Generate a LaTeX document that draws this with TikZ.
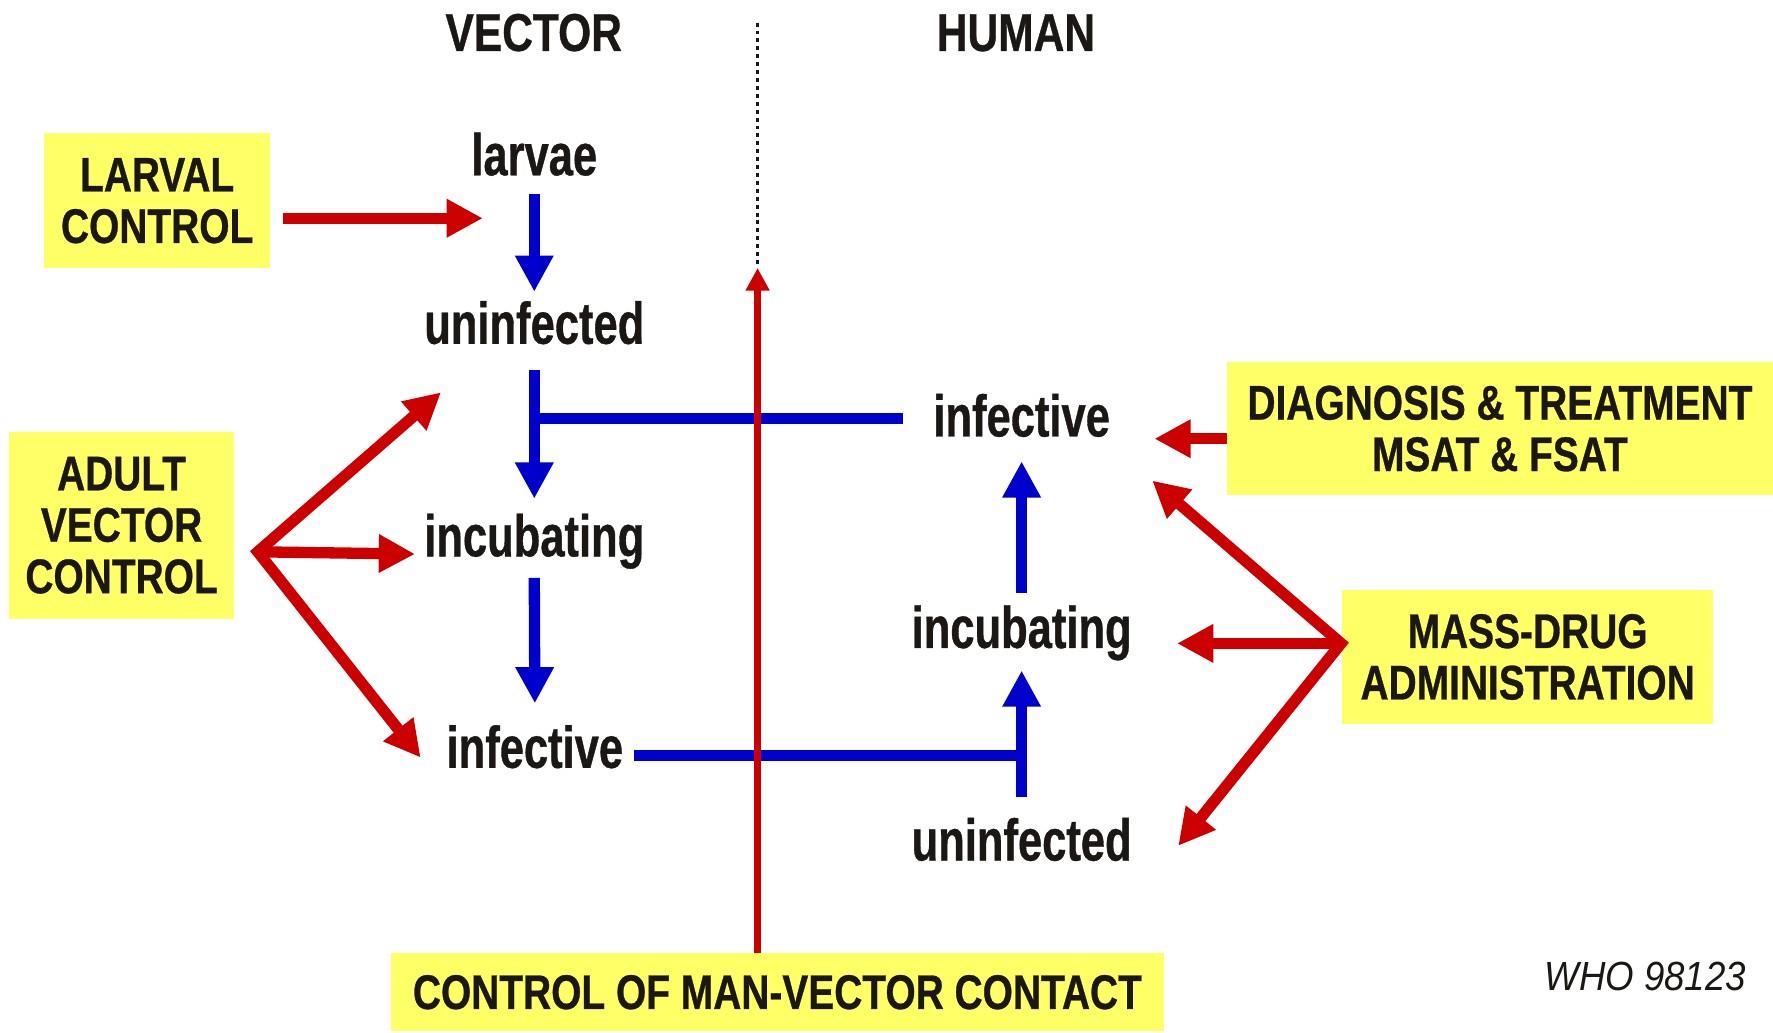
\documentclass[tikz,border=0pt]{standalone}
\usepackage{fontspec}
\usetikzlibrary{arrows.meta}
% condensed, heavy sans faces for the labels
\newfontfamily\lowfont{Liberation Sans}[FakeStretch=0.74,FakeBold=0.6]
\newfontfamily\capfont{Liberation Sans}[FakeStretch=0.80,FakeBold=0.6]
\newfontfamily\tagfont{Liberation Sans}[FakeStretch=0.90]
\definecolor{boxyellow}{RGB}{255,255,102}
\definecolor{ctlred}{RGB}{204,0,0}
\definecolor{flowblue}{RGB}{0,0,204}
\definecolor{ink}{RGB}{26,23,20}
\begin{document}
\begin{tikzpicture}[x=1pt,y=-1pt,
  stage/.style={anchor=base, inner sep=0pt, text=ink,
    font=\lowfont\bfseries\fontsize{52}{56}\selectfont},
  heading/.style={anchor=base, inner sep=0pt, text=ink,
    font=\capfont\bfseries\fontsize{47}{50}\selectfont},
  measure/.style={fill=boxyellow, inner sep=0pt, align=center, text=ink,
    font=\capfont\bfseries\fontsize{43}{45.5}\selectfont},
  flow/.style={draw=flowblue, line width=10pt},
  flowarrow/.style={flow, -{Triangle[length=32pt,width=32pt]}},
  ctl/.style={draw=ctlred, line width=10pt, line join=miter},
  ctlarrow/.style={ctl, -{Triangle[length=32pt,width=32pt]}},
  ctlboth/.style={ctl, {Triangle[length=32pt,width=32pt]}-{Triangle[length=32pt,width=32pt]}},
]
\fill[white] (0,0) rectangle (1568,913);
\useasboundingbox (0,0) rectangle (1568,913);

% column headings and the divider
\node[heading] (hvec) at (472,45) {VECTOR};
\node[heading] (hhum) at (898.5,45) {HUMAN};
\coordinate (dtop) at (670,20);
\coordinate (mvtip) at (670,237);

% vector stages
\node[stage] (vlarvae) at (472.5,155) {larvae};
\node[stage] (vunin)   at (472.5,304) {uninfected};
\node[stage] (vincub)  at (472.5,492) {incubating};
\node[stage] (vinfect) at (473,679) {infective};

% human stages
\node[stage] (hinfect) at (903.5,386) {infective};
\node[stage] (hincub)  at (903.5,573) {incubating};
\node[stage] (hunin)   at (903.5,761) {uninfected};

% control measures
\node[measure, minimum width=200pt, minimum height=119pt] (larval) at (139,177.5) {LARVAL\\CONTROL};
\node[measure, minimum width=199pt, minimum height=165pt] (adult) at (107.5,464.5) {ADULT\\VECTOR\\CONTROL};
\node[measure, minimum width=483pt, minimum height=118pt] (diag) at (1326.5,379) {DIAGNOSIS \& TREATMENT\\MSAT \& FSAT};
\node[measure, minimum width=328pt, minimum height=118pt] (mda) at (1351,581) {MASS-DRUG\\ADMINISTRATION};
\node[measure, minimum width=683pt, minimum height=69pt] (contact) at (687.5,877.5) {CONTROL OF MAN-VECTOR CONTACT};

\node[anchor=base, inner sep=0pt, text=ink, font=\tagfont\itshape\fontsize{36}{40}\selectfont] (code) at (1455,876) {WHO 98123};

% transmission cycle
\coordinate (vbranch) at (472,370);
\coordinate (hjoin) at (903.5,668);
\draw[flowarrow] ([yshift=-17pt]vlarvae.base) -- ([yshift=46pt]vunin.base);
\draw[flowarrow] ([yshift=-23pt]vunin.base) -- ([yshift=51pt]vincub.base);
\draw[flow] (vbranch) -- ([xshift=-27pt]hinfect.west |- vbranch);
\draw[flowarrow] ([yshift=-19pt]vincub.base) -- ([yshift=57pt]vinfect.base);
\draw[flow] ([xshift=9pt]vinfect.east |- hjoin) -- (hjoin);
\draw[flowarrow] ([yshift=56pt]hunin.base) -- ([yshift=-20pt]hincub.base);
\draw[flowarrow] ([yshift=49pt]hincub.base) -- ([yshift=-22pt]hinfect.base);

% interventions
\coordinate (ltip) at (427,193);
\draw[ctlarrow] ([shift={(11pt,-15.5pt)}]larval.east) -- (ltip);

\coordinate (af) at (228,488);
\coordinate (au) at (390,347);
\coordinate (am) at (367,490);
\coordinate (al) at (372,670);
\draw[ctlboth] (au) -- (af) -- (al);
\draw[ctlarrow] (af) -- (am);

\coordinate (dtip) at (1021,388);
\draw[ctlarrow] ([yshift=-9pt]diag.west) -- (dtip);

\coordinate (mf) at (1186,569);
\coordinate (mu) at (1019,425);
\coordinate (mm) at (1041,569);
\coordinate (ml) at (1042,748);
\draw[ctlboth] (mu) -- (mf) -- (ml);
\draw[ctlarrow] (mf) -- (mm);

\draw[ink, line width=3pt, dash pattern=on 3.5pt off 3.5pt] (dtop) -- (mvtip);
\draw[draw=ctlred, line width=6pt, -{Triangle[length=20pt,width=20pt]}] (contact.north -| mvtip) -- (mvtip);
\end{tikzpicture}
\end{document}
